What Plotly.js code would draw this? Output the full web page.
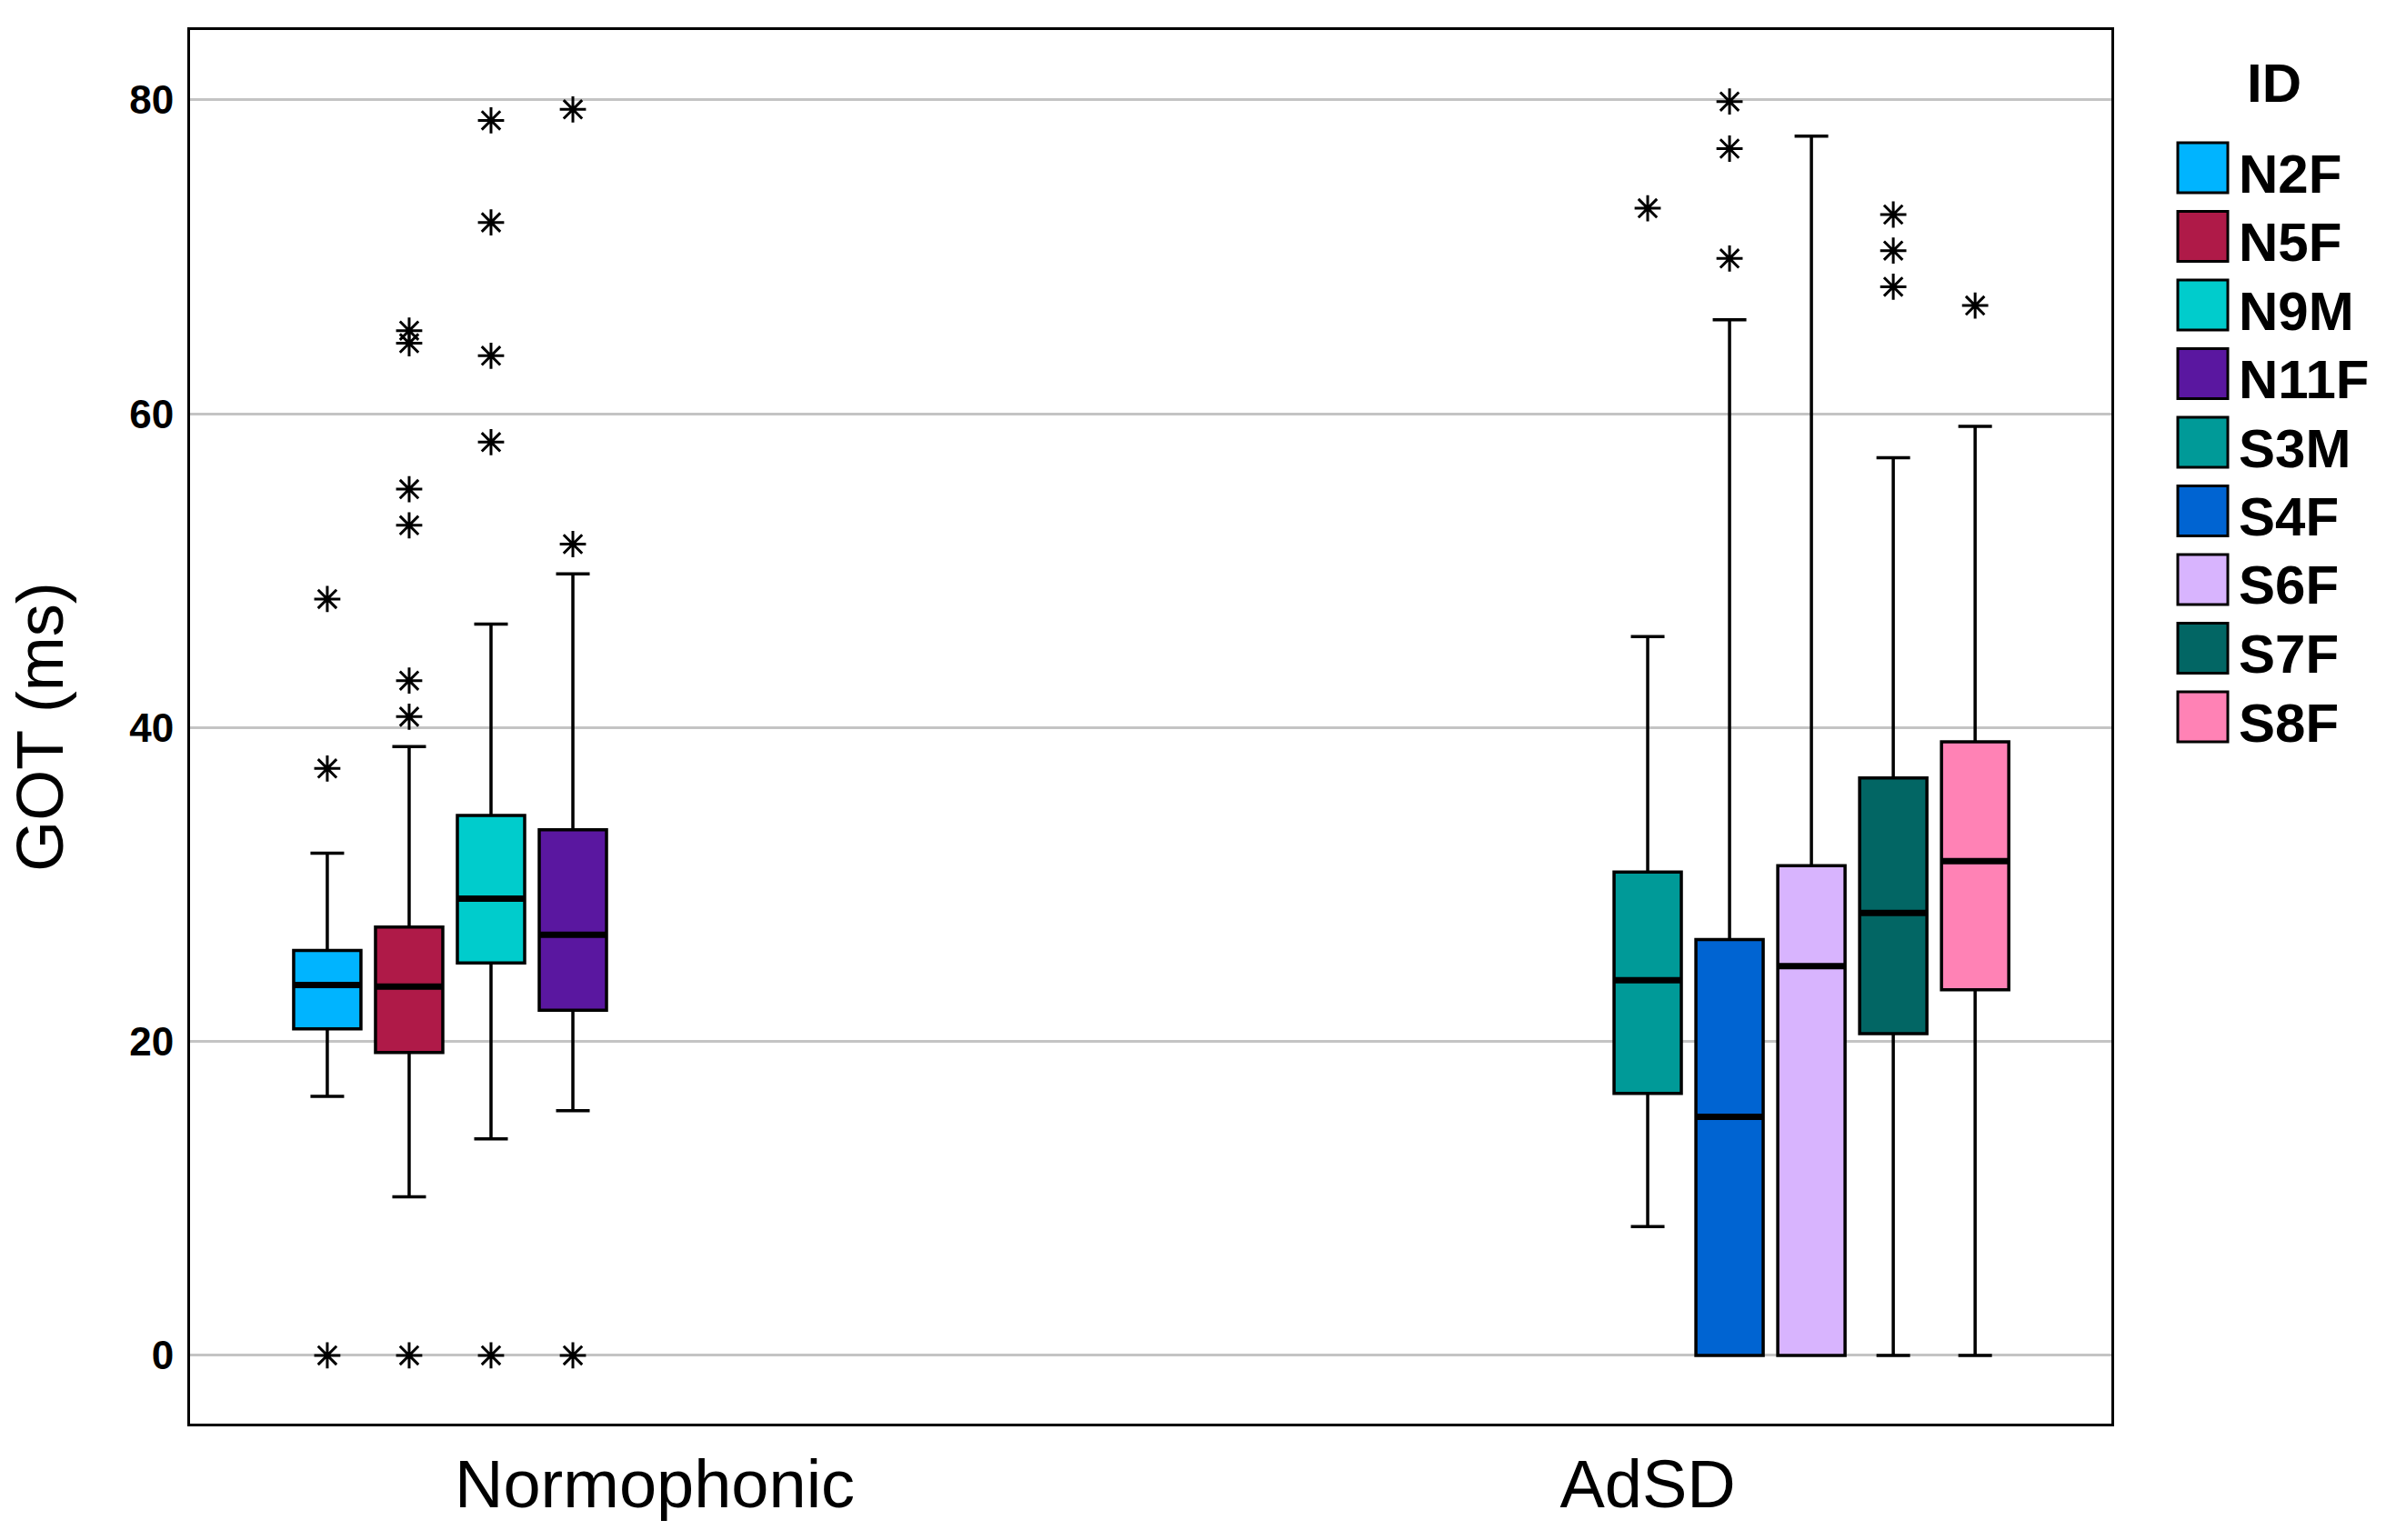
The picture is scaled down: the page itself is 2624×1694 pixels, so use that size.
<!DOCTYPE html>
<html><head><meta charset="utf-8">
<script src="https://cdn.plot.ly/plotly-3.0.1.min.js"></script>
<style>html,body{margin:0;padding:0;background:#fff}#chart{width:2624px;height:1694px}</style>
</head><body><div id="chart"></div>
<script>
// ---- data ----
const groups = ['Normophonic', 'AdSD'];
const ids = ['N2F', 'N5F', 'N9M', 'N11F', 'S3M', 'S4F', 'S6F', 'S7F', 'S8F'];
const idGroup = ['Normophonic', 'Normophonic', 'Normophonic', 'Normophonic', 'AdSD', 'AdSD', 'AdSD', 'AdSD', 'AdSD'];
const colors = ['#00B4FF', '#AF1A48', '#00CCCC', '#5A17A0', '#009A98', '#0064D2', '#D8B4FE', '#026664', '#FF82B5'];
const lowerWhisker = [16.5, 10.1, 13.8, 15.6, 8.2, 0, 0, 0, 0];
const q1 = [20.8, 19.3, 25.0, 22.0, 16.7, 0, 0, 20.5, 23.3];
const median = [23.6, 23.5, 29.1, 26.8, 23.9, 15.2, 24.8, 28.2, 31.5];
const q3 = [25.8, 27.3, 34.4, 33.5, 30.8, 26.5, 31.2, 36.8, 39.1];
const upperWhisker = [32.0, 38.8, 46.6, 49.8, 45.8, 66.0, 77.7, 57.2, 59.2];
const outliers = [
  [48.2, 37.4, 0],
  [65.3, 64.5, 55.2, 52.9, 43.0, 40.7, 0],
  [78.7, 72.2, 63.7, 58.2, 0],
  [79.4, 51.7, 0],
  [73.1],
  [79.9, 76.9, 69.9],
  [],
  [72.7, 70.4, 68.1],
  [66.9]
];
const yTicks = [0, 20, 40, 60, 80];
const yTitle = 'GOT (ms)';
const legendTitle = 'ID';

// ---- layout constants ----
const W = 2624, H = 1694;
const M = {l: 209, r: 302, t: 33, b: 128};
const plotW = W - M.l - M.r, plotH = H - M.t - M.b;
const px2x = px => (px - M.l) / plotW;
const py2y = py => 1 - (py - M.t) / plotH;
const FONT = 'Liberation Sans, Arial, sans-serif';

const traces = [];
ids.forEach((id, i) => {
  const t = {
    type: 'box',
    name: id,
    offsetgroup: id,
    x: [idGroup[i]],
    q1: [q1[i]], median: [median[i]], q3: [q3[i]],
    lowerfence: [lowerWhisker[i]], upperfence: [upperWhisker[i]],
    fillcolor: colors[i],
    line: {color: '#000', width: 3.5},
    whiskerwidth: 0.5,
    showlegend: false,
    hoverinfo: 'skip'
  };
  if (outliers[i].length) {
    t.y = [outliers[i]];
    t.boxpoints = 'all'; t.jitter = 0; t.pointpos = 0;
    t.marker = {symbol: 'asterisk-open', size: 24, color: '#000', line: {color: '#000', width: 3}};
  } else {
    t.boxpoints = false;
  }
  traces.push(t);
});
// thicker median bars (same slot via offsetgroup)
ids.forEach((id, i) => {
  traces.push({
    type: 'box', name: id + ' median', offsetgroup: id,
    x: [idGroup[i]],
    q1: [median[i]], median: [median[i]], q3: [median[i]],
    lowerfence: [median[i]], upperfence: [median[i]],
    fillcolor: 'rgba(0,0,0,0)', line: {color: '#000', width: 7},
    whiskerwidth: 0, boxpoints: false, showlegend: false, hoverinfo: 'skip'
  });
});

const shapes = [];
const annotations = [];
const legTop = 157, legStep = 75.5, sw = 55;
ids.forEach((id, i) => {
  const top = legTop + i * legStep;
  shapes.push({type: 'rect', xref: 'paper', yref: 'paper',
    x0: px2x(2395), x1: px2x(2395 + sw), y0: py2y(top), y1: py2y(top + sw),
    fillcolor: colors[i], line: {color: '#000', width: 3}});
  annotations.push({xref: 'paper', yref: 'paper', x: px2x(2460), y: py2y(top + 34),
    xanchor: 'left', yanchor: 'middle', showarrow: false, text: id,
    font: {family: FONT, size: 60, color: '#000', weight: 'bold'}});
});
annotations.push({xref: 'paper', yref: 'paper', x: px2x(2501), y: py2y(92),
  xanchor: 'center', yanchor: 'middle', showarrow: false, text: legendTitle,
  font: {family: FONT, size: 60, color: '#000', weight: 'bold'}});

const layout = {
  width: W, height: H, margin: M,
  paper_bgcolor: '#fff', plot_bgcolor: '#fff',
  boxmode: 'group', boxgap: 0.258, boxgroupgap: 0.178,
  showlegend: false,
  xaxis: {type: 'category', categoryorder: 'array', categoryarray: groups,
    range: [-0.468, 1.467], showgrid: false, zeroline: false,
    showline: true, mirror: true, linecolor: '#000', linewidth: 3,
    ticks: '', tickfont: {family: FONT, size: 74, color: '#000'}},
  yaxis: {range: [-4.35, 84.46], tickvals: yTicks, ticktext: yTicks.map(String),
    showgrid: true, gridcolor: '#c4c4c4', gridwidth: 3, zeroline: false,
    showline: true, mirror: true, linecolor: '#000', linewidth: 3,
    ticks: '', ticklabelstandoff: 6,
    tickfont: {family: FONT, size: 44, color: '#000', weight: 'bold'},
    title: {text: yTitle, font: {family: FONT, size: 72, color: '#000'}, standoff: 50}},
  shapes: shapes,
  annotations: annotations
};

Plotly.newPlot('chart', traces, layout, {staticPlot: true, displayModeBar: false});
</script>
</body></html>
